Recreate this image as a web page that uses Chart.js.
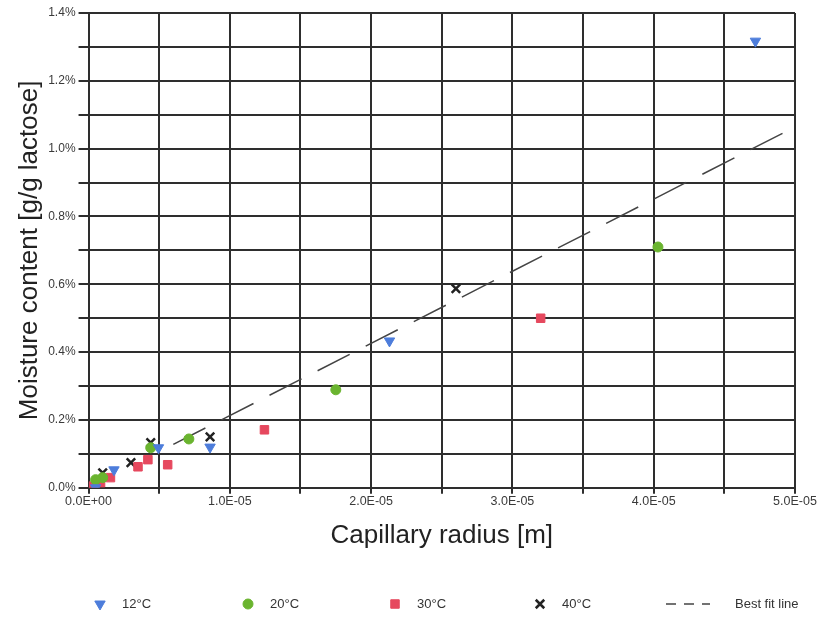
<!DOCTYPE html>
<html>
<head>
<meta charset="utf-8">
<script src="https://cdn.jsdelivr.net/npm/chart.js@4/dist/chart.umd.min.js"></script>
<style>
  html, body { margin: 0; padding: 0; background: #fff; }
</style>
</head>
<body>
<canvas id="chart" width="817" height="624"></canvas>
<script>
// capillary radius [m] and moisture content [%] per temperature
const r12 = [4.72e-5, 2.13e-5, 0.86e-5, 0.495e-5, 0.18e-5, 0.05e-5];
const m12 = [1.317, 0.433, 0.12, 0.118, 0.053, 0.0];
const r20 = [4.03e-5, 1.75e-5, 0.71e-5, 0.44e-5, 0.1e-5, 0.05e-5];
const m20 = [0.71, 0.289, 0.144, 0.118, 0.03, 0.024];
const r30 = [3.2e-5, 1.245e-5, 0.56e-5, 0.42e-5, 0.35e-5, 0.155e-5, 0.085e-5, 0.035e-5];
const m30 = [0.50, 0.171, 0.068, 0.083, 0.062, 0.03, 0.015, 0.005];
const r40 = [2.6e-5, 0.86e-5, 0.44e-5, 0.3e-5, 0.1e-5];
const m40 = [0.587, 0.15, 0.133, 0.074, 0.044];
const fitX = [0.6e-5, 5.0e-5];
const fitY = [0.128, 1.064];

const xTicksStep = 5e-6;
const yTicksStep = 0.1;

const pts = (xs, ys) => xs.map((x, i) => ({ x: x, y: ys[i] }));
const FONT = '"Liberation Sans", Arial, sans-serif';

// legend drawn under the x title, spaced like the original
const bottomLegend = {
  id: 'bottomLegend',
  afterDraw(chart) {
    const ctx = chart.ctx;
    const y = 604;
    const xs = [100, 248, 395, 540, 688];
    chart.data.datasets.forEach((ds, i) => {
      const x = xs[i];
      ctx.save();
      if (ds.type === 'line') {
        ctx.strokeStyle = ds.borderColor;
        ctx.lineWidth = 1.5;
        ctx.setLineDash([10, 8]);
        ctx.beginPath();
        ctx.moveTo(x - 22, y);
        ctx.lineTo(x + 22, y);
        ctx.stroke();
        ctx.setLineDash([]);
      } else {
        ctx.fillStyle = ds.backgroundColor;
        ctx.strokeStyle = ds.borderColor;
        ctx.lineWidth = ds.borderWidth;
        Chart.helpers.drawPoint(ctx, {
          pointStyle: ds.pointStyle,
          rotation: ds.pointRotation || 0,
          radius: ds.pointRadius,
          borderWidth: ds.borderWidth
        }, x, y);
      }
      ctx.fillStyle = '#333';
      ctx.font = '13px ' + FONT;
      ctx.textBaseline = 'middle';
      ctx.fillText(ds.label, ds.type === 'line' ? x + 47 : x + 22, y);
      ctx.restore();
    });
  }
};

new Chart(document.getElementById('chart'), {
  type: 'scatter',
  data: {
    datasets: [
      {
        label: '12°C',
        data: pts(r12, m12),
        pointStyle: 'triangle',
        pointRotation: 180,
        pointRadius: 6,
        backgroundColor: '#4d7ddb',
        borderColor: '#4d7ddb',
        borderWidth: 1
      },
      {
        label: '20°C',
        data: pts(r20, m20),
        pointStyle: 'circle',
        pointRadius: 5,
        backgroundColor: '#6ab42f',
        borderColor: '#6ab42f',
        borderWidth: 1
      },
      {
        label: '30°C',
        data: pts(r30, m30),
        pointStyle: 'rect',
        pointRadius: 6,
        backgroundColor: '#e6485e',
        borderColor: '#e6485e',
        borderWidth: 1
      },
      {
        label: '40°C',
        data: pts(r40, m40),
        pointStyle: 'crossRot',
        pointRadius: 6,
        backgroundColor: '#222',
        borderColor: '#222',
        borderWidth: 2.5
      },
      {
        type: 'line',
        label: 'Best fit line',
        data: pts(fitX, fitY),
        borderColor: '#444',
        borderWidth: 1.5,
        borderDash: [36, 18],
        pointRadius: 0,
        fill: false
      }
    ]
  },
  options: {
    responsive: false,
    animation: false,
    layout: { padding: { left: 14, right: 22, top: 13, bottom: 73 } },
    plugins: {
      legend: { display: false },
      tooltip: { enabled: false }
    },
    scales: {
      x: {
        type: 'linear',
        min: 0,
        max: 5e-5,
        ticks: {
          stepSize: xTicksStep,
          color: '#3a3a3a',
          font: { family: FONT, size: 12.5 },
          maxRotation: 0,
          autoSkip: false,
          padding: 0,
          callback: (v) => {
            const k = Math.round(v / xTicksStep);
            if (k % 2) return '';
            return k === 0 ? '0.0E+00' : (k / 2).toFixed(1) + 'E-05';
          }
        },
        grid: { color: '#2e2e2e', lineWidth: 2, tickLength: 6 },
        border: { color: '#2e2e2e', width: 2 },
        title: {
          display: true,
          text: 'Capillary radius [m]',
          color: '#222',
          font: { family: FONT, size: 26 },
          padding: { top: 11, bottom: 0 }
        }
      },
      y: {
        min: 0,
        max: 1.4,
        ticks: {
          stepSize: yTicksStep,
          color: '#3a3a3a',
          font: { family: FONT, size: 12 },
          autoSkip: false,
          padding: 3,
          callback: (v) => {
            const k = Math.round(v / yTicksStep);
            if (k % 2) return '';
            return (k / 10).toFixed(1) + '%';
          }
        },
        grid: { color: '#2e2e2e', lineWidth: 2, tickLength: 10 },
        border: { color: '#2e2e2e', width: 2 },
        title: {
          display: true,
          text: 'Moisture content [g/g lactose]',
          color: '#222',
          font: { family: FONT, size: 26 },
          padding: { top: 0, bottom: 0 }
        }
      }
    }
  },
  plugins: [bottomLegend]
});
</script>
</body>
</html>
